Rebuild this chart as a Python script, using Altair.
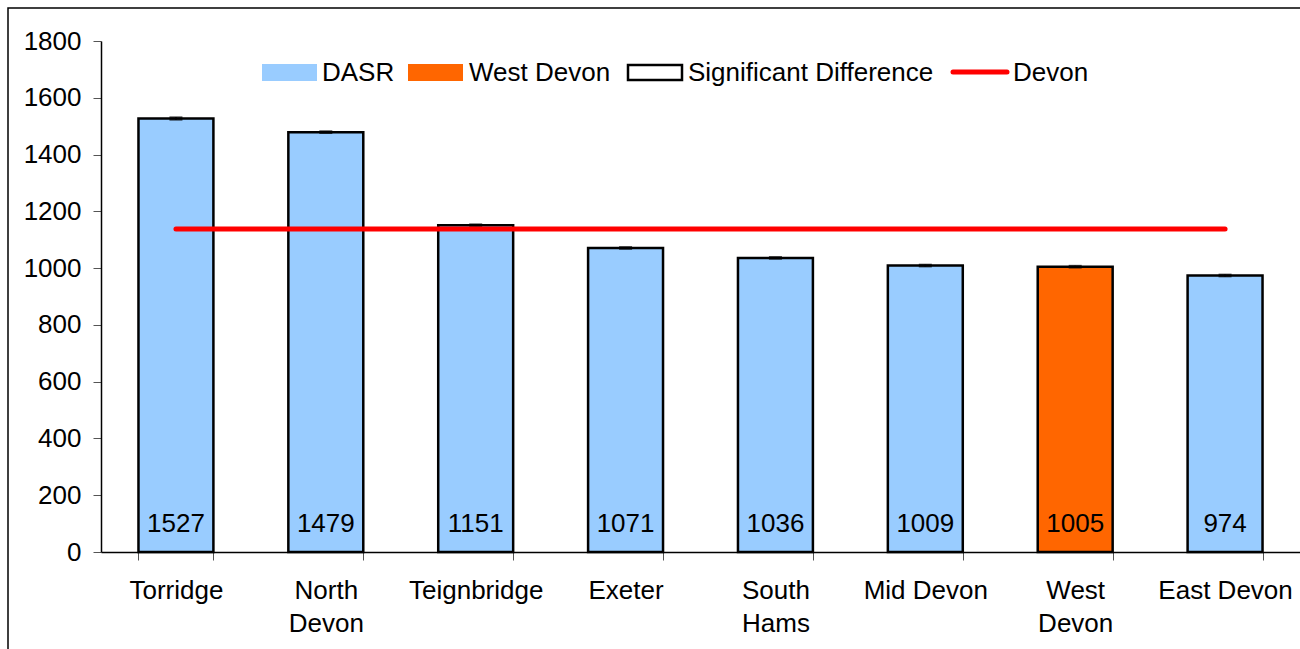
import altair as alt
import pandas as pd

# Directly age-standardised rates by district
districts = ["Torridge", "North Devon", "Teignbridge", "Exeter",
             "South Hams", "Mid Devon", "West Devon", "East Devon"]
dasr = [1527, 1479, 1151, 1071, 1036, 1009, 1005, 974]
ci_lower = [1523, 1476, 1148, 1068, 1033, 1006, 1002, 971]
ci_upper = [1531, 1482, 1154, 1074, 1039, 1012, 1008, 977]
devon_rate = 1138
highlight = "West Devon"
y_ticks = [0, 200, 400, 600, 800, 1000, 1200, 1400, 1600, 1800]
wrapped_labels = {"North Devon": ["North", "Devon"],
                  "South Hams": ["South", "Hams"],
                  "West Devon": ["West", "Devon"]}

FONT = "Liberation Sans"
BLUE = "#99CCFF"
ORANGE = "#FF6600"
RED = "#FF0000"

df = pd.DataFrame({
    "district": districts,
    "dasr": dasr,
    "lo": ci_lower,
    "hi": ci_upper,
    "devon": [devon_rate] * len(districts),
    "group": ["West Devon" if d == highlight else "DASR" for d in districts],
})

# multi-line category labels
label_expr = "datum.label"
for name, lines in wrapped_labels.items():
    arr = "[" + ",".join(f"'{s}'" for s in lines) + "]"
    label_expr = f"datum.value == '{name}' ? {arr} : ({label_expr})"

x_scale = alt.Scale(domain=districts, paddingInner=0.5, paddingOuter=0.25)
x_enc = alt.X(
    "district:N", sort=districts, scale=x_scale,
    axis=alt.Axis(title=None, labelAngle=0, labelFont=FONT, labelFontSize=26,
                  labelColor="black", labelExpr=label_expr, labelLineHeight=33,
                  labelBaseline="top", labelPadding=17, tickBand="extent",
                  tickSize=8, tickColor="#555555", domainColor="black",
                  domainWidth=1.5, labelOverlap=False, labelLimit=300),
)
x_plain = alt.X("district:N", sort=districts, scale=x_scale)
y_scale = alt.Scale(domain=[0, 1800], nice=False, zero=True)
y_enc = alt.Y(
    "dasr:Q", scale=y_scale,
    axis=alt.Axis(title=None, values=y_ticks, grid=False, format="d",
                  labelFont=FONT, labelFontSize=26, labelColor="black",
                  labelPadding=12, tickSize=8, tickColor="#555555",
                  domainColor="black", domainWidth=1.5),
)

base = alt.Chart(df)

bars = base.mark_bar(stroke="black", strokeWidth=2.5).encode(
    x=x_enc,
    y=y_enc,
    fill=alt.Fill("group:N", scale=alt.Scale(domain=["DASR", "West Devon"],
                                             range=[BLUE, ORANGE]), legend=None),
)

err_rule = base.mark_rule(color="black", strokeWidth=2).encode(
    x=x_plain, y=alt.Y("lo:Q", scale=y_scale), y2="hi:Q")
err_cap_hi = base.mark_tick(color="black", thickness=2, size=13).encode(
    x=x_plain, y=alt.Y("hi:Q", scale=y_scale))
err_cap_lo = base.mark_tick(color="black", thickness=2, size=13).encode(
    x=x_plain, y=alt.Y("lo:Q", scale=y_scale))

devon_line = base.mark_line(color=RED, strokeWidth=5, strokeCap="round").encode(
    x=x_plain, y=alt.Y("devon:Q", scale=y_scale))

values = base.mark_text(font=FONT, fontSize=26, color="black",
                        baseline="bottom", dy=-15).encode(
    x=x_plain, y=alt.datum(0), text="dasr:Q")

# Legend row drawn inside the plot area
one = alt.Data(values=[{}])
leg_y0, leg_y1, leg_mid = 23, 40, 31
legend_layers = [
    alt.Chart(one).mark_rect(fill=BLUE).encode(
        x=alt.value(161), x2=alt.value(216), y=alt.value(leg_y0), y2=alt.value(leg_y1)),
    alt.Chart(one).mark_rect(fill=ORANGE).encode(
        x=alt.value(307), x2=alt.value(362), y=alt.value(leg_y0), y2=alt.value(leg_y1)),
    alt.Chart(one).mark_rect(fill="white", stroke="black", strokeWidth=2.5).encode(
        x=alt.value(527), x2=alt.value(581), y=alt.value(leg_y0 + 1), y2=alt.value(leg_y1 - 1)),
    alt.Chart(one).mark_rule(color=RED, strokeWidth=5, strokeCap="round").encode(
        x=alt.value(852), x2=alt.value(906), y=alt.value(leg_mid)),
]
for xpos, txt in [(221, "DASR"), (368, "West Devon"),
                  (587, "Significant Difference"), (912, "Devon")]:
    legend_layers.append(
        alt.Chart(one).mark_text(font=FONT, fontSize=26, align="left",
                                 baseline="middle", color="black").encode(
            x=alt.value(xpos), y=alt.value(leg_mid + 1), text=alt.value(txt)))

frame = alt.Chart(one).mark_rect(fill="transparent", stroke="black",
                                 strokeWidth=1.5).encode(
    x=alt.value(-93), x2=alt.value(1300), y=alt.value(-33), y2=alt.value(700))

chart = alt.layer(
    frame, bars, err_rule, err_cap_hi, err_cap_lo, devon_line, values, *legend_layers
).properties(
    width=1199, height=511,
    autosize=alt.AutoSizeParams(type="none"),
    padding={"left": 101, "top": 41, "right": 0, "bottom": 97},
    background="white",
).configure_view(stroke=None)

chart.save("out.html", embed_options={"renderer": "svg", "actions": False})
